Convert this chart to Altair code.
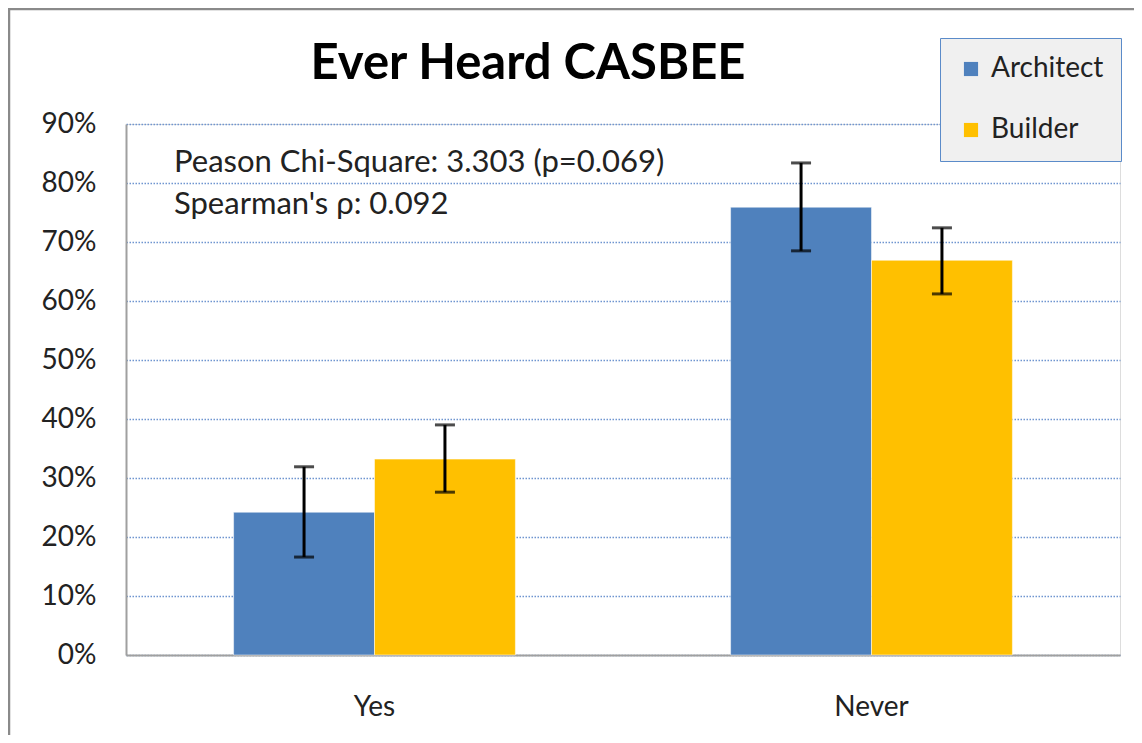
import altair as alt
import pandas as pd

categories = ["Yes", "Never"]
groups = ["Architect", "Builder"]
values = {"Architect": [0.242, 0.759], "Builder": [0.332, 0.669]}
err_low = {"Architect": [0.166, 0.685], "Builder": [0.276, 0.612]}
err_high = {"Architect": [0.319, 0.834], "Builder": [0.390, 0.724]}
colors = ["#4F81BD", "#FFC000"]
title_text = "Ever Heard CASBEE"
notes = ["Peason Chi-Square: 3.303 (p=0.069)", "Spearman's \u03c1: 0.092"]
y_ticks = [0, 0.1, 0.2, 0.3, 0.4, 0.5, 0.6, 0.7, 0.8, 0.9]

rows = []
for g in groups:
    for i, c in enumerate(categories):
        rows.append({"cat": c, "grp": g, "val": values[g][i],
                     "lo": err_low[g][i], "hi": err_high[g][i]})
df = pd.DataFrame(rows)

FONT = "Lato"

x = alt.X("cat:N", sort=categories, title=None,
          scale=alt.Scale(paddingInner=0.433, paddingOuter=0.2165),
          axis=alt.Axis(labelAngle=0, labelFontSize=28, labelFont=FONT,
                        labelColor="#222", labelPadding=38, ticks=False,
                        domainColor="#a0a0a0", domainWidth=2, grid=False))
xo = alt.XOffset("grp:N", sort=groups, scale=alt.Scale(paddingInner=0, paddingOuter=0))
y = alt.Y("val:Q", title=None,
          scale=alt.Scale(domain=[0, 0.9], nice=False),
          axis=alt.Axis(values=y_ticks, format=".0%", labelFontSize=28, labelFont=FONT,
                        labelColor="#222", labelPadding=30, ticks=False,
                        domainColor="#a0a0a0", domainWidth=2,
                        grid=True, gridColor="#6F95D0", gridDash=[1.5, 1.5], gridWidth=1.3))

base = alt.Chart(df)

bars = base.mark_bar(strokeWidth=1, strokeOpacity=0.5, stroke="#ffffff").encode(
    x=x, xOffset=xo, y=y,
    color=alt.Color("grp:N", sort=groups, title=None,
                    scale=alt.Scale(domain=groups, range=colors),
                    legend=alt.Legend(orient="none", legendX=814, legendY=-86,
                                      fillColor="#F0F0F0", strokeColor="#5B8BC9",
                                      padding=17, rowPadding=33, symbolType="square",
                                      symbolSize=200, symbolStrokeWidth=0,
                                      labelFontSize=28, labelFont=FONT, labelColor="#222",
                                      labelOffset=6, symbolOffset=0)),
)

rules = base.mark_rule(color="black", strokeWidth=3).encode(
    x=x, xOffset=xo, y=alt.Y("lo:Q"), y2="hi:Q")
caps_lo = base.mark_tick(color="black", thickness=3, size=20).encode(
    x=x, xOffset=xo, y=alt.Y("lo:Q"))
caps_hi = base.mark_tick(color="black", thickness=3, size=20).encode(
    x=x, xOffset=xo, y=alt.Y("hi:Q"))

title = alt.Chart(pd.DataFrame({"t": [title_text]})).mark_text(
    fontSize=49, font=FONT, fontWeight="bold", align="center", baseline="alphabetic",
    color="#000").encode(text="t:N", x=alt.value(402), y=alt.value(-45))

note1 = alt.Chart(pd.DataFrame({"t": [notes[0]]})).mark_text(
    fontSize=31, font=FONT, align="left", baseline="alphabetic", color="#222").encode(
    text="t:N", x=alt.value(48), y=alt.value(48))
note2 = alt.Chart(pd.DataFrame({"t": [notes[1]]})).mark_text(
    fontSize=31, font=FONT, align="left", baseline="alphabetic", color="#222").encode(
    text="t:N", x=alt.value(48), y=alt.value(90))

frame_left = alt.Chart(pd.DataFrame({"a": [0]})).mark_rule(color="#8a8a8a", strokeWidth=2.5).encode(
    x=alt.value(-117), y=alt.value(-116), y2=alt.value(625))
frame_top = alt.Chart(pd.DataFrame({"a": [0]})).mark_rule(color="#8a8a8a", strokeWidth=2.5).encode(
    x=alt.value(-117), x2=alt.value(1020), y=alt.value(-115))

chart = alt.layer(bars, rules, caps_lo, caps_hi, title, note1, note2, frame_left, frame_top).properties(
    width=994, height=531,
    padding={"left": 118, "top": 116, "right": 14, "bottom": 80},
    autosize=alt.AutoSizeParams(type="none"),
).configure_view(stroke=None).configure(background="white")

chart.save("out.html", embed_options={"renderer": "svg", "actions": False})
